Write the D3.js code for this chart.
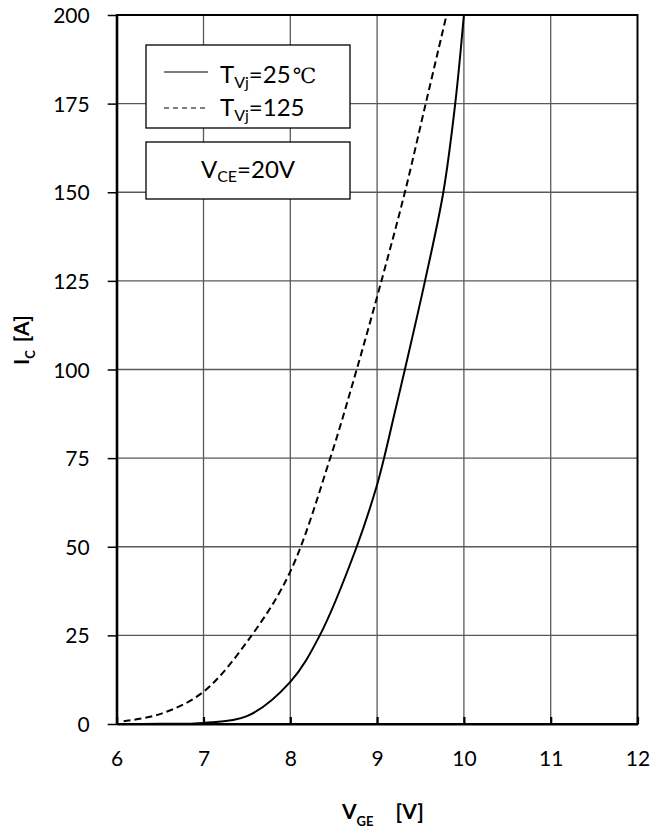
<!DOCTYPE html>
<html>
<head>
<meta charset="utf-8">
<script src="https://cdn.jsdelivr.net/npm/d3@7"></script>
<style>
  html, body { margin: 0; padding: 0; background: #fff; }
  svg { display: block; }
  svg text { font-family: Lato, "Open Sans", sans-serif; }
</style>
</head>
<body>
<div id="plot"></div>
<script>
// transfer characteristic
const vgeTicks = [6, 7, 8, 9, 10, 11, 12];
const icTicks = [0, 25, 50, 75, 100, 125, 150, 175, 200];

const vge25 = [6, 6.5, 7, 7.5, 8, 8.34, 8.765, 9, 9.08, 9.2, 9.32, 9.552, 9.763, 9.9, 10];
const ic25 = [0, 0.05, 0.3, 2.2, 11.9, 25, 50, 67.5, 75, 87.5, 100, 125, 150, 175, 200];

const vge125 = [6.08, 6.5, 7, 7.555, 8, 8.46, 8.765, 9.05, 9.32, 9.56, 9.8];
const ic125 = [0.8, 2.8, 9.1, 25, 43, 75, 100, 125, 150, 175, 200];

const width = 665;
const height = 835;
const margin = {top: 15, right: 27.5, bottom: 111, left: 116.7};
const innerWidth = width - margin.left - margin.right;
const innerHeight = height - margin.top - margin.bottom;

const svg = d3.select('#plot').append('svg')
    .attr('width', width)
    .attr('height', height);

const chart = svg.append('g')
    .attr('transform', `translate(${margin.left},${margin.top})`);

const x = d3.scaleLinear().domain([6, 12]).range([0, innerWidth]);
const y = d3.scaleLinear().domain([0, 200]).range([innerHeight, 0]);

// grid
chart.append('g')
    .selectAll('line')
    .data(vgeTicks.slice(1, -1))
    .join('line')
    .attr('x1', d => x(d)).attr('x2', d => x(d))
    .attr('y1', 0).attr('y2', innerHeight)
    .attr('stroke', '#595959').attr('stroke-width', 1.3);

chart.append('g')
    .selectAll('line')
    .data(icTicks.slice(1, -1))
    .join('line')
    .attr('x1', 0).attr('x2', innerWidth)
    .attr('y1', d => y(d)).attr('y2', d => y(d))
    .attr('stroke', '#595959').attr('stroke-width', 1.3);

// frame
chart.append('rect')
    .attr('width', innerWidth)
    .attr('height', innerHeight)
    .attr('fill', 'none')
    .attr('stroke', '#000')
    .attr('stroke-width', 2);

// axes
const yAxis = chart.append('g')
    .call(d3.axisLeft(y).tickValues(icTicks).tickFormat(d3.format('d'))
        .tickSize(9).tickSizeOuter(0).tickPadding(18))
    .attr('font-family', null).attr('font-size', null);
yAxis.select('.domain').attr('stroke-width', 2.2);
yAxis.selectAll('.tick line').attr('stroke-width', 1.5);
yAxis.selectAll('text')
    .attr('font-size', '21px')
    .attr('fill', '#000')
    .attr('dy', '0.36em');

const xAxis = chart.append('g')
    .attr('transform', `translate(0,${innerHeight})`)
    .call(d3.axisBottom(x).tickValues(vgeTicks).tickFormat(d3.format('d'))
        .tickSize(-7).tickSizeOuter(0))
    .attr('font-family', null).attr('font-size', null);
xAxis.select('.domain').attr('stroke-width', 2.2);
xAxis.selectAll('.tick line').attr('stroke-width', 2.2);
xAxis.selectAll('text')
    .attr('font-size', '21px')
    .attr('fill', '#000')
    .attr('y', 42)
    .attr('dy', 0);

// curves
const line = d3.line()
    .x(d => x(d[0]))
    .y(d => y(d[1]))
    .curve(d3.curveCatmullRom.alpha(0.5));

chart.append('path')
    .datum(d3.zip(vge25, ic25))
    .attr('d', line)
    .attr('fill', 'none')
    .attr('stroke', '#000')
    .attr('stroke-width', 2);

chart.append('path')
    .datum(d3.zip(vge125, ic125))
    .attr('d', line)
    .attr('fill', 'none')
    .attr('stroke', '#000')
    .attr('stroke-width', 2)
    .attr('stroke-dasharray', '7,4');

// legend boxes
const legend = svg.append('g');
legend.append('rect')
    .attr('x', 146).attr('y', 45)
    .attr('width', 204).attr('height', 83)
    .attr('fill', '#fff').attr('stroke', '#000').attr('stroke-width', 1.3);
legend.append('rect')
    .attr('x', 146).attr('y', 142)
    .attr('width', 204).attr('height', 57)
    .attr('fill', '#fff').attr('stroke', '#000').attr('stroke-width', 1.3);

legend.append('line')
    .attr('x1', 164).attr('x2', 208).attr('y1', 72).attr('y2', 72)
    .attr('stroke', '#000').attr('stroke-width', 1.2);
legend.append('line')
    .attr('x1', 164).attr('x2', 208).attr('y1', 108).attr('y2', 108)
    .attr('stroke', '#000').attr('stroke-width', 1.2)
    .attr('stroke-dasharray', '5,4');

function tvj(yPos, value, unit) {
    const t = legend.append('text')
        .attr('x', 220).attr('y', yPos)
        .attr('font-size', '24px');
    t.append('tspan').text('T');
    t.append('tspan').attr('font-size', '16px').attr('dy', 5).text('Vj');
    t.append('tspan').attr('dy', -5).text('=' + value);
    if (unit) {
        t.append('tspan')
            .style('font-family', '"DejaVu Serif", "Noto Sans CJK SC", serif')
            .attr('font-size', '21px')
            .attr('font-weight', 300)
            .attr('dx', 2)
            .text(unit);
    }
}
tvj(83, '25', '\u2103');
tvj(116, '125', null);

const vce = legend.append('text')
    .attr('x', 248).attr('y', 178)
    .attr('text-anchor', 'middle')
    .attr('font-size', '24px');
vce.append('tspan').text('V');
vce.append('tspan').attr('font-size', '16px').attr('dy', 4).text('CE');
vce.append('tspan').attr('dy', -4).text('=20V');

// axis titles
const xt = svg.append('text')
    .attr('x', 342).attr('y', 819)
    .attr('font-size', '21px')
    .attr('font-weight', 'bold');
xt.append('tspan').text('V');
xt.append('tspan').attr('font-size', '13px').attr('dy', 7).text('GE');
xt.append('tspan').attr('dy', -7).attr('dx', 22).text('[V]');

const yt = svg.append('text')
    .attr('transform', 'translate(29,365) rotate(-90)')
    .attr('font-size', '21px')
    .attr('font-weight', 'bold');
yt.append('tspan').text('I');
yt.append('tspan').attr('font-size', '13px').attr('dy', 6).text('C');
yt.append('tspan').attr('dy', -6).attr('dx', 8).text('[A]');
</script>
</body>
</html>
